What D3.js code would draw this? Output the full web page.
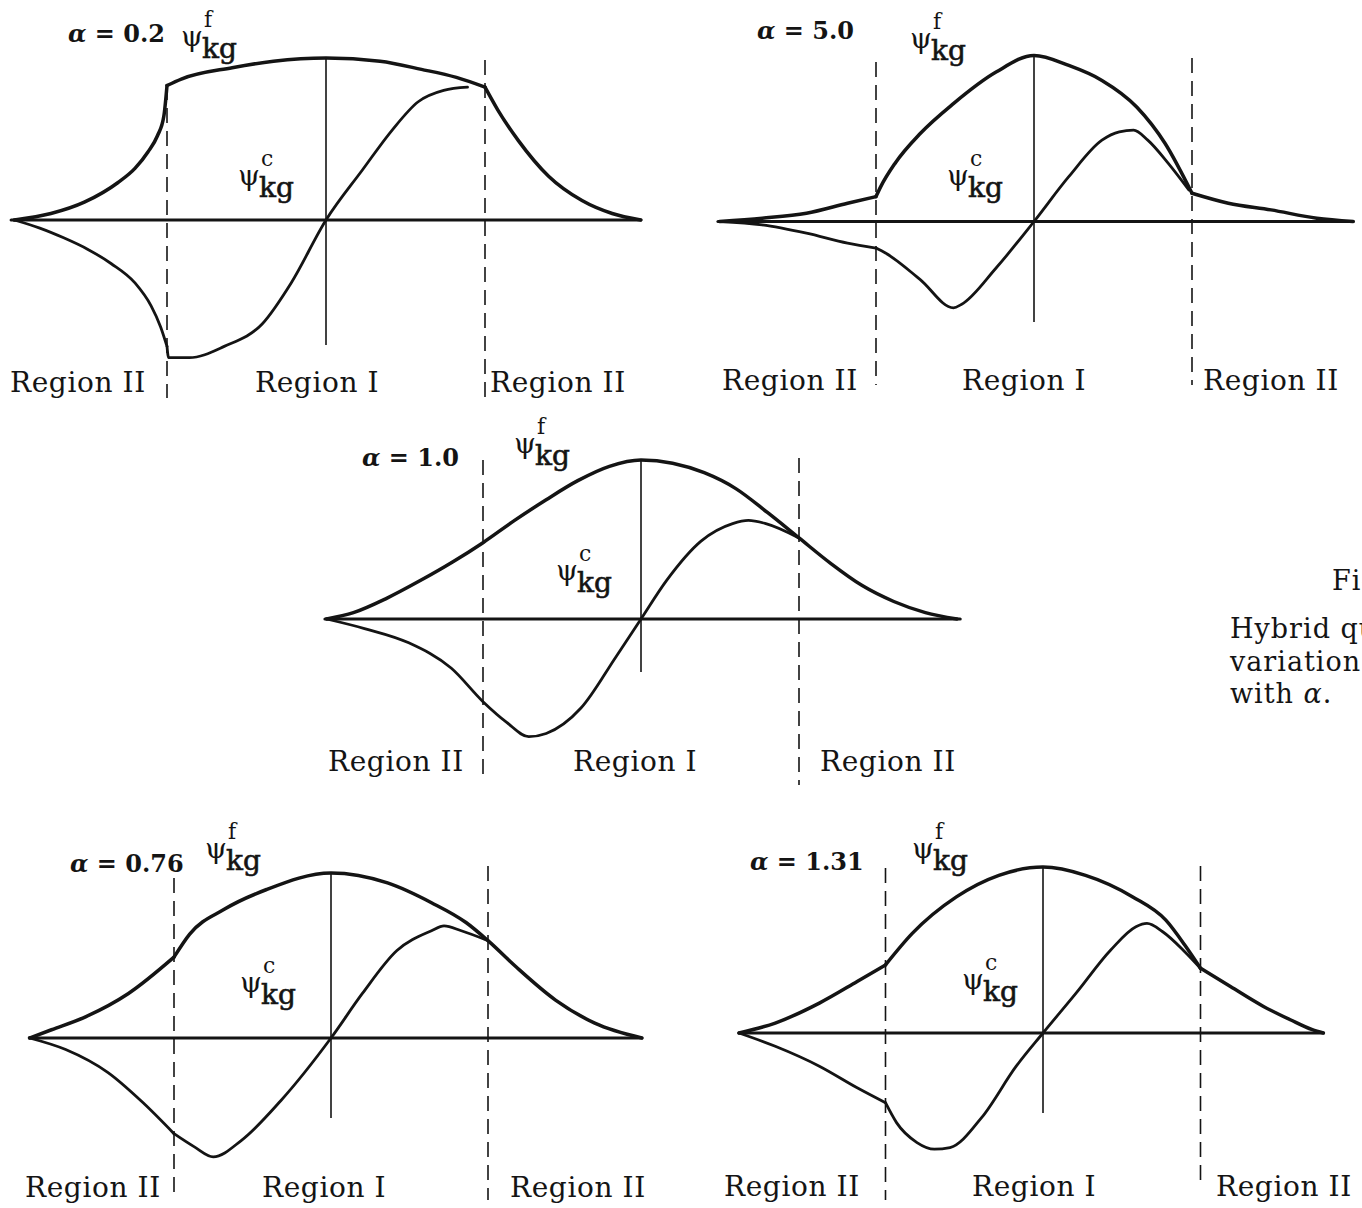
<!DOCTYPE html>
<html><head><meta charset="utf-8">
<script src="https://cdn.jsdelivr.net/npm/d3@7"></script>
<style>
html,body{margin:0;padding:0;background:#fff;overflow:hidden}
svg{display:block}
text{font-family:"DejaVu Serif","Liberation Serif",serif;fill:#141414}
</style></head><body>
<svg id="fig" width="1362" height="1208"></svg>
<script>
// Hybrid functions psi^f_kg and psi^c_kg along the normalised coordinate xi.
// Region I / Region II boundaries sit at xi = ±1; values are scaled so that
// the peak of psi^f_kg equals 1.
const alphaValues = ["0.2", "5.0", "1.0", "0.76", "1.31"];
const regionNames = ["Region II", "Region I", "Region II"];
const captionLines = ["Hybrid quantity", "variation", "with "];

const xiSpan_02 = [-1.98, 1.98];
const psiF_02 = [[-1.96,0],[-1.73,0.04],[-1.52,0.11],[-1.31,0.23],[-1.20,0.32],[-1.12,0.42],[-1.06,0.52],[-1.02,0.64],[-1.00,0.83],
  [-0.91,0.87],[-0.59,0.94],[-0.33,0.98],[0,1],[0.34,0.98],[0.60,0.93],[0.82,0.88],[1.00,0.82],
  [1.08,0.68],[1.21,0.49],[1.40,0.27],[1.61,0.12],[1.80,0.04],[1.98,0]];
const psiC_02 = [[-1.96,0],[-1.80,-0.05],[-1.65,-0.11],[-1.50,-0.18],[-1.35,-0.27],[-1.20,-0.39],[-1.10,-0.53],[-1.04,-0.66],[-1.00,-0.78],
  [-0.99,-0.85],[-0.86,-0.85],[-0.64,-0.78],[-0.40,-0.64],[-0.22,-0.39],[0,0],[0.23,0.31],[0.42,0.56],
  [0.58,0.73],[0.74,0.80],[0.89,0.82]];

const xiSpan_50 = [-2.0, 2.02];
const psiF_50 = [[-1.99,0],[-1.72,0.02],[-1.44,0.05],[-1.18,0.11],[-1.00,0.15],
  [-0.97,0.21],[-0.88,0.35],[-0.72,0.53],[-0.51,0.71],[-0.24,0.90],[0,1],[0.22,0.94],[0.43,0.85],[0.65,0.69],[0.83,0.47],[1.00,0.17],
  [1.23,0.11],[1.50,0.07],[1.79,0.02],[2.02,0]];
const psiC_50 = [[-1.99,0],[-1.72,-0.02],[-1.44,-0.07],[-1.18,-0.13],[-1.00,-0.16],
  [-0.94,-0.19],[-0.72,-0.35],[-0.51,-0.52],[-0.46,-0.50],[-0.24,-0.28],[0,0],[0.22,0.27],[0.43,0.49],[0.54,0.54],
  [0.63,0.55],[0.72,0.49],[0.85,0.35],[0.98,0.19]];

const xiSpan_10 = [-2.0, 2.02];
const psiF_10 = [[-1.99,0],[-1.82,0.04],[-1.61,0.13],[-1.40,0.24],[-1.19,0.36],[-1.00,0.48],
  [-0.80,0.62],[-0.60,0.75],[-0.40,0.87],[-0.20,0.96],[0,1],[0.20,0.98],[0.40,0.92],[0.60,0.82],[0.80,0.67],[1.00,0.51],
  [1.20,0.35],[1.40,0.21],[1.60,0.11],[1.80,0.04],[2.0,0]];
const psiC_10 = [[-1.99,0],[-1.75,-0.06],[-1.47,-0.15],[-1.20,-0.31],[-1.00,-0.52],
  [-0.85,-0.65],[-0.71,-0.74],[-0.60,-0.72],[-0.38,-0.56],[-0.16,-0.24],[0,0],[0.16,0.24],[0.38,0.49],
  [0.58,0.60],[0.68,0.62],[0.79,0.60],[1.00,0.51]];

const xiSpan_076 = [-1.92, 1.98];
const psiF_076 = [[-1.92,0],[-1.78,0.05],[-1.56,0.13],[-1.29,0.27],[-1.00,0.49],
  [-0.90,0.63],[-0.68,0.78],[-0.41,0.90],[0,1],[0.36,0.94],[0.64,0.82],[0.86,0.70],[1.00,0.59],
  [1.18,0.43],[1.43,0.23],[1.68,0.09],[1.98,0]];
const psiC_076 = [[-1.92,0],[-1.69,-0.07],[-1.42,-0.21],[-1.20,-0.39],[-1.00,-0.58],
  [-0.87,-0.66],[-0.75,-0.72],[-0.57,-0.62],[-0.32,-0.38],[0,0],[0.20,0.27],[0.42,0.53],[0.64,0.65],
  [0.72,0.68],[0.83,0.65],[1.00,0.59]];

const xiSpan_131 = [-1.93, 1.78];
const psiF_131 = [[-1.93,0],[-1.70,0.06],[-1.42,0.18],[-1.18,0.31],[-1.00,0.41],
  [-0.83,0.60],[-0.55,0.82],[-0.28,0.95],[0,1],[0.27,0.95],[0.57,0.82],[0.78,0.68],[0.90,0.53],[1.00,0.39],
  [1.19,0.28],[1.40,0.16],[1.57,0.08],[1.71,0.02],[1.78,0]];
const psiC_131 = [[-1.93,0],[-1.70,-0.08],[-1.42,-0.20],[-1.18,-0.33],[-1.00,-0.42],
  [-0.93,-0.54],[-0.80,-0.66],[-0.69,-0.70],[-0.59,-0.69],[-0.39,-0.51],[-0.17,-0.20],[0,0],[0.21,0.24],
  [0.43,0.50],[0.59,0.64],[0.66,0.66],[0.76,0.61],[0.90,0.49],[1.00,0.39]];

const panelData = [
  {alpha: alphaValues[0], span: xiSpan_02,  f: psiF_02,  c: psiC_02},
  {alpha: alphaValues[1], span: xiSpan_50,  f: psiF_50,  c: psiC_50},
  {alpha: alphaValues[2], span: xiSpan_10,  f: psiF_10,  c: psiC_10},
  {alpha: alphaValues[3], span: xiSpan_076, f: psiF_076, c: psiC_076},
  {alpha: alphaValues[4], span: xiSpan_131, f: psiF_131, c: psiC_131}
];

// page placement of each panel (pixel layout); 'corners' lists the boundaries
// where the curves change slope abruptly
const layout = [
  {cx:326,  u:159,   y0:220,   yu:162, centreBottom:345,  dashL:[85,398],   dashR:[60,398], corners:[-1, 1],
   alphaAt:[68,42],   fAt:[181,58],  cAt:[238,197], regionY:392,  regionX:[10,255,490]},
  {cx:1034, u:158,   y0:221.5, yu:166, centreBottom:322,  dashL:[62,385],   dashR:[58,385], corners:[-1, 1],
   alphaAt:[757,39],  fAt:[910,60],  cAt:[947,197], regionY:390,  regionX:[722,962,1203]},
  {cx:641,  u:158,   y0:619,   yu:159, centreBottom:672,  dashL:[460,782],  dashR:[458,785], corners:[],
   alphaAt:[362,466], fAt:[514,465], cAt:[556,592], regionY:771,  regionX:[328,573,820]},
  {cx:331,  u:157,   y0:1038,  yu:165, centreBottom:1118, dashL:[878,1200], dashR:[866,1200], corners:[-1],
   alphaAt:[70,872],  fAt:[205,870], cAt:[240,1004], regionY:1197, regionX:[25,262,510]},
  {cx:1043, u:157.5, y0:1033,  yu:166, centreBottom:1113, dashL:[868,1200], dashR:[866,1180], corners:[-1, 1],
   alphaAt:[750,870], fAt:[912,870], cAt:[962,1001], regionY:1196, regionX:[724,972,1216]}
];

const ink = "#141414";
const svg = d3.select("#fig");
svg.append("rect").attr("width", 1362).attr("height", 1208).attr("fill", "#fff");

// split a curve at the boundaries where it has a corner
function splitAt(pts, corners) {
  const segs = []; let cur = [];
  pts.forEach((d, k) => {
    cur.push(d);
    if (corners.some(b => Math.abs(d[0] - b) < 1e-9) && k > 0 && k < pts.length - 1) {
      segs.push(cur); cur = [d];
    }
  });
  segs.push(cur);
  return segs;
}

// psi with a superscript letter and the subscript "kg"; (px, base) is the
// left edge of psi and the baseline of "kg"
function psiLabel(g, pos, sup) {
  const [px, base] = pos;
  const t = g.append("text").attr("x", px).attr("y", base - 12).attr("font-size", 28);
  t.append("tspan").text("ψ");
  t.append("tspan").attr("x", px + 23).attr("y", base - 31).attr("font-size", 22).text(sup);
  t.append("tspan").attr("x", px + 21).attr("y", base).attr("font-size", 28)
    .attr("stroke", ink).attr("stroke-width", 0.6).text("kg");
}

panelData.forEach((p, i) => {
  const L = layout[i];
  const x = d3.scaleLinear().domain([-1, 1]).range([L.cx - L.u, L.cx + L.u]);
  const y = d3.scaleLinear().domain([0, 1]).range([L.y0, L.y0 - L.yu]);
  const g = svg.append("g").attr("class", "panel");

  // horizontal axis
  g.append("line")
    .attr("x1", x(p.span[0])).attr("x2", x(p.span[1]))
    .attr("y1", y(0)).attr("y2", y(0))
    .attr("stroke", ink).attr("stroke-width", 3.2).attr("stroke-linecap", "round");

  // centre line from the peak of psi^f downwards
  const peak = d3.max(p.f, d => d[1]);
  g.append("line")
    .attr("x1", x(0)).attr("x2", x(0))
    .attr("y1", y(peak)).attr("y2", L.centreBottom)
    .attr("stroke", ink).attr("stroke-width", 1.6);

  // region boundaries
  [[-1, L.dashL], [1, L.dashR]].forEach(([b, ext]) => {
    g.append("line")
      .attr("x1", x(b)).attr("x2", x(b))
      .attr("y1", ext[0]).attr("y2", ext[1])
      .attr("stroke", ink).attr("stroke-width", 1.6)
      .attr("stroke-dasharray", "15 8");
  });

  const line = d3.line()
    .x(d => x(d[0])).y(d => y(d[1]))
    .curve(d3.curveMonotoneX);

  [[p.f, 3.5], [p.c, 2.8]].forEach(([data, w]) => {
    splitAt(data, L.corners).forEach(seg => {
      g.append("path").attr("d", line(seg))
        .attr("fill", "none").attr("stroke", ink)
        .attr("stroke-width", w)
        .attr("stroke-linecap", "round").attr("stroke-linejoin", "round");
    });
  });

  // alpha label
  const t = g.append("text")
    .attr("x", L.alphaAt[0]).attr("y", L.alphaAt[1])
    .attr("font-size", 24).attr("font-weight", "bold");
  t.append("tspan").attr("font-style", "italic").text("α");
  t.append("tspan").text(" = " + p.alpha);

  psiLabel(g, L.fAt, "f");
  psiLabel(g, L.cAt, "c");

  regionNames.forEach((name, k) => {
    g.append("text")
      .attr("x", L.regionX[k]).attr("y", L.regionY)
      .attr("font-size", 28).attr("letter-spacing", 0.6)
      .text(name);
  });
});

// figure caption, running off the right edge of the page
const cap = svg.append("g").attr("class", "caption");
cap.append("text").attr("x", 1332).attr("y", 590).attr("font-size", 27).attr("letter-spacing", 1).text("Fig.");
captionLines.forEach((s, k) => {
  const t = cap.append("text").attr("x", 1230).attr("y", 638 + k * 32.5)
    .attr("font-size", 27).attr("letter-spacing", 1).text(s);
  if (k === captionLines.length - 1) {
    t.append("tspan").attr("font-style", "italic").text("α");
    t.append("tspan").text(".");
  }
});
</script>
</body></html>
